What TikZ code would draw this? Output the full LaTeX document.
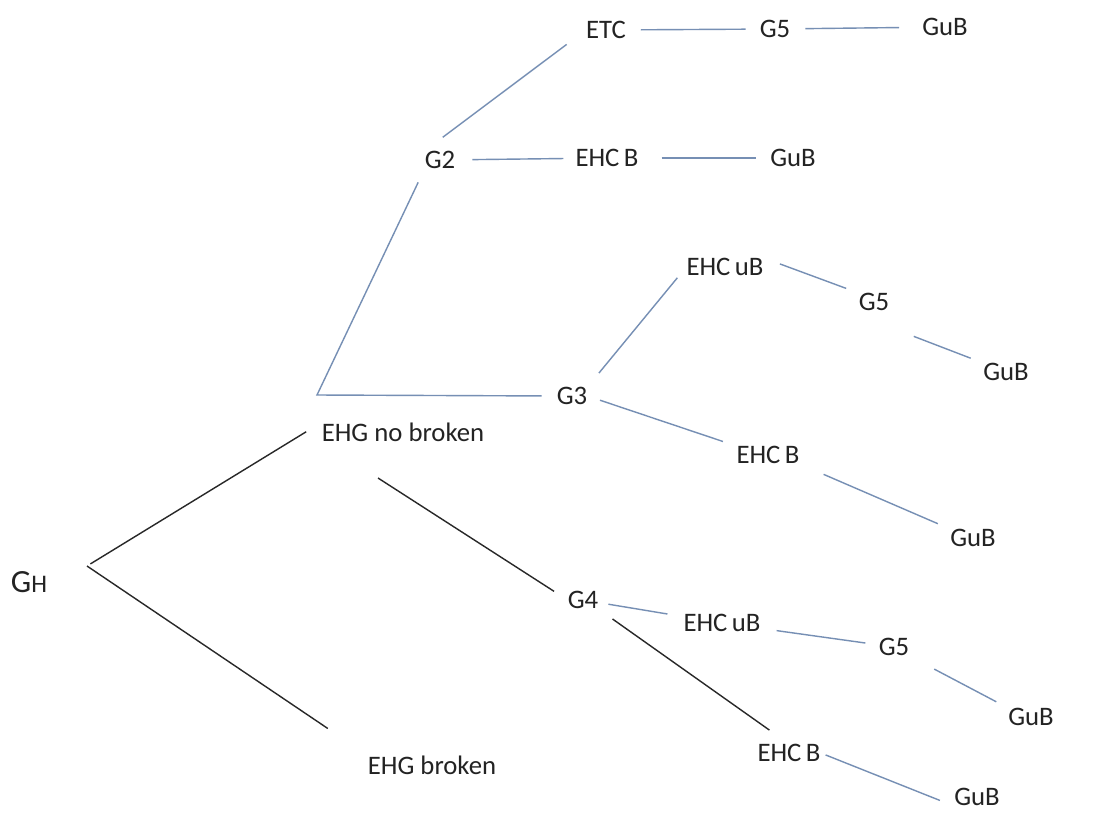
\documentclass[tikz,border=0pt]{standalone}
\usepackage{fontspec}
\setmainfont{Carlito}
\definecolor{linkblue}{RGB}{118,143,180}
\definecolor{linkdark}{RGB}{40,40,40}
\definecolor{labelgray}{RGB}{35,35,35}
\tikzset{
  lbl/.style={inner sep=0pt, text=labelgray, font=\fontsize{19}{23}\selectfont},
  blueline/.style={draw=linkblue, line width=1pt},
  darkline/.style={draw=linkdark, line width=1pt}
}
\begin{document}
\begin{tikzpicture}[x=0.025cm,y=-0.025cm]
  \fill[white] (0,0) rectangle (1113,817);
  % root and the two EHG cases
  \node[lbl] (gh) at (29,582) {{\fontsize{23}{27}\selectfont G}{\fontsize{18}{22}\selectfont H}};
  \coordinate (fork) at (87,566);
  \node[lbl] (ehgno) at (403,432) {EHG no broken};
  \node[lbl] (ehgbr) at (432,765) {EHG broken};
  \coordinate (corner) at (317,395);
  % G2 branch
  \node[lbl] (g2) at (440,160) {G2};
  \node[lbl] (etc) at (606,30) {ETC};
  \node[lbl] (g5a) at (775,29) {G5};
  \node[lbl] (guba) at (945,27) {GuB};
  \node[lbl] (ehcba) at (607,158) {EHC\,B};
  \node[lbl] (gubb) at (793,158) {GuB};
  % G3 branch
  \node[lbl] (g3) at (572,396) {G3};
  \node[lbl] (ehcua) at (725,267) {EHC\,uB};
  \node[lbl] (g5b) at (874,302) {G5};
  \node[lbl] (gubc) at (1006,372) {GuB};
  \node[lbl] (ehcbb) at (768,455) {EHC\,B};
  \node[lbl] (gubd) at (973,538) {GuB};
  % G4 branch
  \node[lbl] (g4) at (583,600) {G4};
  \node[lbl] (ehcub) at (722,623) {EHC\,uB};
  \node[lbl] (g5c) at (894,647) {G5};
  \node[lbl] (gube) at (1031,717) {GuB};
  \node[lbl] (ehcbc) at (789,753) {EHC\,B};
  \node[lbl] (gubf) at (977,797) {GuB};

  \draw[darkline, shorten <=0.1cm, shorten >=0.45cm] (fork) -- (ehgno.north west);
  \draw[darkline, shorten >=1.2cm] (fork) -- (ehgbr.north west);
  \draw[darkline, shorten <=1.68cm, shorten >=0.4cm] (ehgno.south west) -- (g4.west);
  \draw[darkline, shorten <=0.43cm, shorten >=0.6cm] (g4.south east) -- (ehcbc.north);

  \draw[blueline, shorten <=0.37cm, shorten >=0.37cm] (g2.south west) -- (corner) -- (g3.west);
  \draw[blueline, shorten <=0.57cm, shorten >=0.6cm] (g2.north west) -- (etc.west);
  \draw[blueline, shorten <=0.42cm, shorten >=0.3cm] (g2) -- (ehcba);
  \draw[blueline, shorten <=0.57cm, shorten >=0.35cm] (ehcba) -- (gubb);
  \draw[blueline, shorten <=0.37cm, shorten >=0.35cm] (etc) -- (g5a);
  \draw[blueline, shorten <=0.37cm, shorten >=0.57cm] (g5a) -- (guba);
  \draw[blueline, shorten <=0.45cm, shorten >=0.35cm] (g3.north east) -- (ehcua.west);
  \draw[blueline, shorten <=0.33cm, shorten >=0.35cm] (g3.east) -- (ehcbb.north west);
  \draw[blueline, shorten <=0.43cm, shorten >=0.33cm] (ehcua.north east) -- (g5b.north west);
  \draw[blueline, shorten <=0.65cm, shorten >=0.33cm] ([shift={(0,16)}]g5b.south east) -- (gubc.north west);
  \draw[blueline, shorten <=0.65cm, shorten >=0.33cm] (ehcbb.south east) -- (gubd.north west);
  \draw[blueline, shorten <=0.25cm, shorten >=0.4cm] (g4) -- (ehcub);
  \draw[blueline, shorten <=0.4cm, shorten >=0.33cm] (ehcub) -- (g5c);
  \draw[blueline, shorten <=0.7cm, shorten >=0.33cm] (g5c.south east) -- (gube.north west);
  \draw[blueline, shorten <=0.13cm, shorten >=0.38cm] (ehcbc.east) -- (gubf.south west);
\end{tikzpicture}
\end{document}
